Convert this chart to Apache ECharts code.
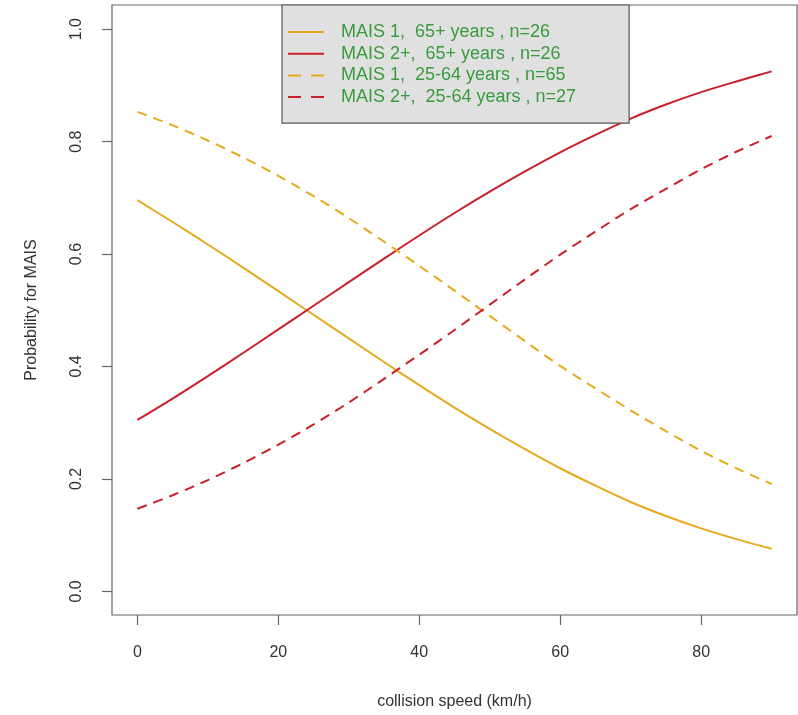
<!DOCTYPE html>
<html>
<head>
<meta charset="utf-8">
<script src="https://cdn.jsdelivr.net/npm/echarts@6/dist/echarts.min.js"></script>
<style>
  html, body { margin: 0; padding: 0; background: #fff; }
  #chart { width: 798px; height: 715px; }
</style>
</head>
<body>
<div id="chart"></div>
<script>
// collision speed (km/h)
const speeds = [0, 5, 10, 15, 20, 25, 30, 35, 40, 45, 50, 55, 60, 65, 70, 75, 80, 85, 90];

// probabilities
const mais1Old = [0.696, 0.657, 0.617, 0.576, 0.534, 0.492, 0.450, 0.408, 0.367, 0.327, 0.289, 0.253, 0.219, 0.188, 0.159, 0.134, 0.112, 0.093, 0.076];
const mais2Old = [0.305, 0.343, 0.383, 0.424, 0.466, 0.508, 0.550, 0.592, 0.633, 0.673, 0.711, 0.747, 0.781, 0.812, 0.841, 0.866, 0.888, 0.907, 0.925];
const mais1Young = [0.853, 0.829, 0.802, 0.772, 0.739, 0.703, 0.664, 0.622, 0.579, 0.535, 0.490, 0.445, 0.401, 0.361, 0.322, 0.285, 0.250, 0.219, 0.191];
const mais2Young = [0.147, 0.171, 0.198, 0.228, 0.261, 0.297, 0.336, 0.378, 0.421, 0.465, 0.510, 0.555, 0.599, 0.640, 0.680, 0.716, 0.751, 0.782, 0.810];

const xTicks = [0, 20, 40, 60, 80];
const yTicks = [0, 0.2, 0.4, 0.6, 0.8, 1.0];

const seriesNames = [
  "MAIS 1,  65+ years , n=26",
  "MAIS 2+,  65+ years , n=26",
  "MAIS 1,  25-64 years , n=65",
  "MAIS 2+,  25-64 years , n=27"
];

const ORANGE = "#e6aa1e";
const RED = "#c8202a";
const FONT = "Liberation Sans";

const pairs = (ys) => speeds.map((x, i) => [x, ys[i]]);

const makeSeries = (name, ys, color, dashed) => ({
  name: name,
  type: "line",
  data: pairs(ys),
  smooth: 0.3,
  symbol: "none",
  color: color,
  lineStyle: { width: 2, color: color, type: dashed ? [10, 7] : "solid" }
});

// legend entries, dashed ones get a wider dash so two dashes fit the sample
const legendData = seriesNames.map((name, i) =>
  i < 2 ? { name: name } : { name: name, lineStyle: { type: [13, 10] } }
);

const chart = echarts.init(document.getElementById("chart"));
chart.setOption({
  backgroundColor: "#ffffff",
  animation: false,
  textStyle: { fontFamily: FONT },
  grid: {
    left: 112, right: 1, top: 5, bottom: 95,
    show: true, borderColor: "#666", borderWidth: 1.2, backgroundColor: "transparent"
  },
  legend: {
    orient: "vertical",
    left: 282, top: 5,
    backgroundColor: "#e0e0e0",
    borderColor: "#555", borderWidth: 1.2, borderRadius: 0,
    padding: [18, 53, 17, 5],
    itemWidth: 36, itemHeight: 14, itemGap: 3.7,
    itemStyle: { opacity: 0 },
    textStyle: { color: "#3a9a3e", fontSize: 18, lineHeight: 18, padding: [0, 0, 0, 12], fontFamily: FONT },
    data: legendData
  },
  xAxis: {
    type: "value",
    min: -3.6, max: 93.6,
    name: "collision speed (km/h)",
    nameLocation: "middle",
    nameGap: 79,
    nameTextStyle: { color: "#333", fontSize: 16, fontFamily: FONT },
    axisLine: { show: false, onZero: false },
    splitLine: { show: false },
    axisTick: { show: true, length: 10, inside: false, customValues: xTicks, lineStyle: { color: "#666", width: 1.2 } },
    axisLabel: { customValues: xTicks, margin: 30, color: "#333", fontSize: 16, fontFamily: FONT }
  },
  yAxis: {
    type: "value",
    min: -0.042, max: 1.043,
    name: "Probability for MAIS",
    nameLocation: "middle",
    nameGap: 72,
    nameTextStyle: { color: "#333", fontSize: 16, fontFamily: FONT },
    axisLine: { show: false, onZero: false },
    splitLine: { show: false },
    axisTick: { show: true, length: 10, inside: false, customValues: yTicks, lineStyle: { color: "#666", width: 1.2 } },
    axisLabel: {
      customValues: yTicks, rotate: 90, margin: 27, color: "#333", fontSize: 16, fontFamily: FONT,
      formatter: (v) => v.toFixed(1)
    }
  },
  series: [
    makeSeries(seriesNames[0], mais1Old, ORANGE, false),
    makeSeries(seriesNames[1], mais2Old, RED, false),
    makeSeries(seriesNames[2], mais1Young, ORANGE, true),
    makeSeries(seriesNames[3], mais2Young, RED, true)
  ]
});

window.addEventListener("resize", () => chart.resize());
</script>
</body>
</html>
